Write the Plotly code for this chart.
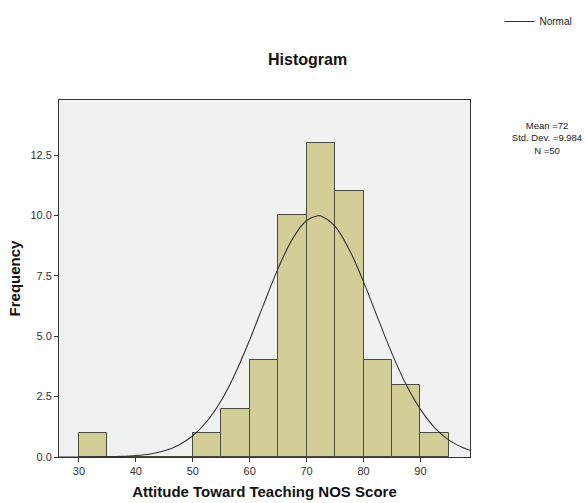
import plotly.graph_objects as go

# Histogram bins (left edges, width 5) and counts
bin_starts = [30, 35, 40, 45, 50, 55, 60, 65, 70, 75, 80, 85, 90]
counts = [1, 0, 0, 0, 1, 2, 4, 10, 13, 11, 4, 3, 1]
bin_width = 5

# Normal curve values
curve_x = [26.5, 27.5, 30, 32.5, 35, 37.5, 40, 42.5, 45, 47.5, 50, 52.5, 55, 57.5,
           60, 62.5, 65, 67.5, 70, 72, 72.5, 75, 77.5, 80, 82.5, 85, 87.5, 90,
           92.5, 95, 97.5, 98.7]
curve_y = [0.0003, 0.0005, 0.0014, 0.004, 0.010, 0.025, 0.059, 0.127, 0.258, 0.49,
           0.88, 1.48, 2.34, 3.48, 4.85, 6.35, 7.81, 9.02, 9.79, 9.99, 9.98, 9.55,
           8.58, 7.25, 5.75, 4.28, 2.99, 1.97, 1.21, 0.70, 0.38, 0.28]

y_ticks = [0, 2.5, 5, 7.5, 10, 12.5]
x_ticks = [30, 40, 50, 60, 70, 80, 90]

stats_text = "Mean =72<br>Std. Dev. =9.984<br>N =50"

centers = [b + bin_width / 2 for b in bin_starts]

L, R, T, B = 59, 470.5, 100, 457
PW, PH = R - L, B - T

def px(x):
    return (x - L) / PW

def py(y):
    return (B - y) / PH

fig = go.Figure()
fig.add_trace(go.Bar(
    x=centers, y=counts, width=bin_width,
    marker=dict(color="#D3CE98", line=dict(color="#4A4A40", width=1)),
    showlegend=False, hoverinfo="x+y",
))
fig.add_trace(go.Scatter(
    x=curve_x, y=curve_y, mode="lines", name="Normal",
    line=dict(color="#333333", width=1.1, shape="spline"),
))

font_family = "Liberation Sans, Arial, sans-serif"

fig.update_layout(
    width=586, height=503,
    margin=dict(l=L, r=586 - R, t=T, b=503 - B, autoexpand=False),
    paper_bgcolor="white",
    plot_bgcolor="#F0F1F1",
    font=dict(family=font_family, size=11, color="#333333"),
    showlegend=True,
    legend=dict(x=px(500), y=py(7), xanchor="left", yanchor="top",
                font=dict(size=10, color="#222222"),
                bgcolor="rgba(0,0,0,0)", tracegroupgap=0,
                itemwidth=30),
    bargap=0,
    xaxis=dict(
        range=[26.5, 98.7], tickvals=x_ticks, ticks="outside", ticklen=4,
        tickcolor="#333333", showgrid=False, zeroline=False, automargin=False,
        showline=True, linecolor="#333333", linewidth=1, mirror=True,
        tickfont=dict(size=11, color="#333333"),
        title=dict(text="<b>Attitude Toward Teaching NOS Score</b>",
                   font=dict(size=15, color="#111111"), standoff=10),
    ),
    yaxis=dict(
        range=[0, 14.78], tickvals=y_ticks, tickformat=".1f", ticks="outside",
        ticklen=4, tickcolor="#333333", showgrid=False, zeroline=False,
        automargin=False,
        showline=True, linecolor="#333333", linewidth=1, mirror=True,
        tickfont=dict(size=11, color="#333333"),
        title=dict(text="<b>Frequency</b>", font=dict(size=15, color="#111111"),
                   standoff=6),
    ),
    annotations=[
        dict(text="<b>Histogram</b>", x=px(308), xref="paper", y=py(60), yref="paper",
             showarrow=False, font=dict(size=16, color="#111111"),
             xanchor="center", yanchor="middle"),
        dict(text=stats_text, xref="paper", yref="paper",
             x=px(548), y=py(138), width=110,
             showarrow=False, align="center", xanchor="center", yanchor="middle",
             font=dict(size=9.5, color="#222222")),
    ],
)

fig.write_html("out.html", config={"displayModeBar": False},
               post_script="document.body.style.margin='0';")
